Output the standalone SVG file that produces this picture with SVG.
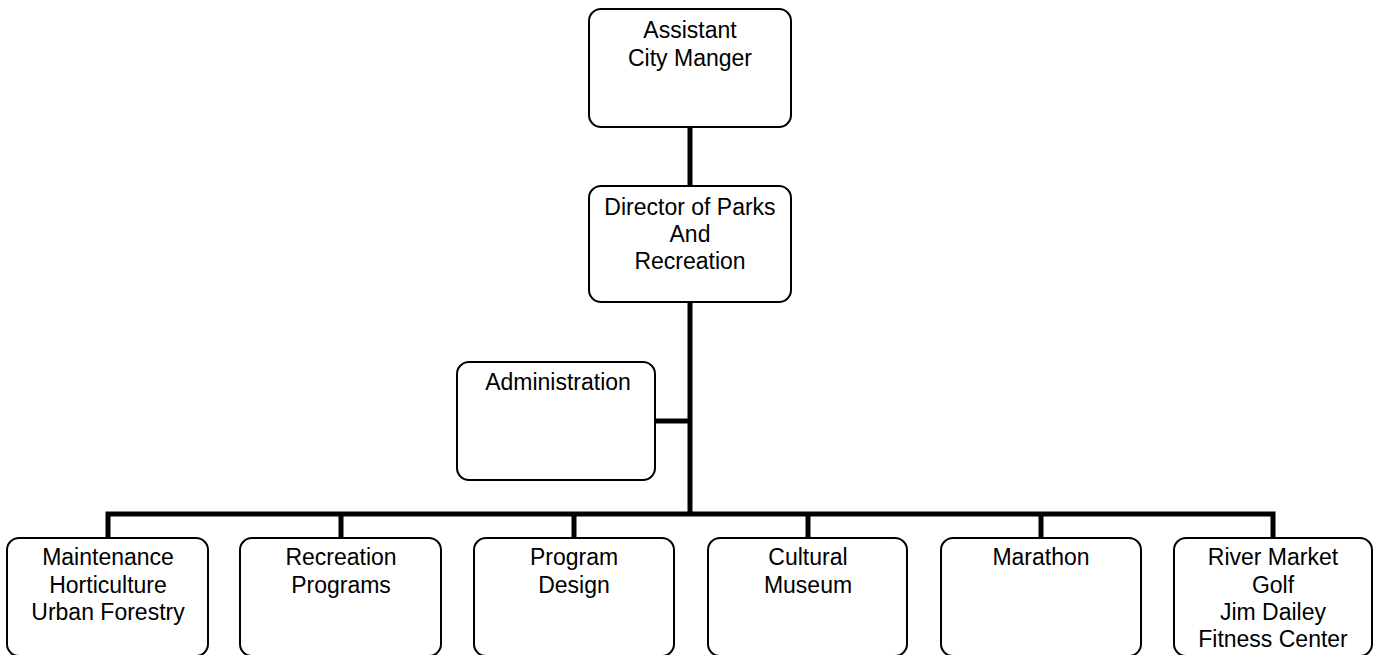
<svg xmlns="http://www.w3.org/2000/svg" width="1377" height="655" viewBox="0 0 1377 655">
<style>
.box{fill:#fff;stroke:#000;stroke-width:2}
.lbl{font-family:"Liberation Sans",Arial,sans-serif;font-size:23px;fill:#000;text-anchor:middle}
.conn{stroke:#000;stroke-width:5;fill:none}
</style>
<rect width="1377" height="655" fill="#fff"/>
<g id="connectors">
<line class="conn" x1="690" y1="127" x2="690" y2="186"/>
<line class="conn" x1="690" y1="302" x2="690" y2="516"/>
<line class="conn" x1="655" y1="421" x2="690" y2="421"/>
<polyline class="conn" points="108,538 108,514 1273,514 1273,538"/>
<line class="conn" x1="341" y1="514" x2="341" y2="538"/>
<line class="conn" x1="574" y1="514" x2="574" y2="538"/>
<line class="conn" x1="808" y1="514" x2="808" y2="538"/>
<line class="conn" x1="1041" y1="514" x2="1041" y2="538"/>
</g>
<g id="assistant">
<rect class="box" x="589" y="9" width="202" height="118" rx="12"/>
<text class="lbl" x="690" y="38">Assistant</text>
<text class="lbl" x="690" y="66">City Manger</text>
</g>
<g id="director">
<rect class="box" x="589" y="186" width="202" height="116" rx="12"/>
<text class="lbl" x="690" y="215">Director of Parks</text>
<text class="lbl" x="690" y="242">And</text>
<text class="lbl" x="690" y="269">Recreation</text>
</g>
<g id="administration">
<rect class="box" x="457" y="362" width="198" height="118" rx="12"/>
<text class="lbl" x="558" y="390">Administration</text>
</g>
<g id="maintenance">
<rect class="box" x="7" y="538" width="201" height="118" rx="12"/>
<text class="lbl" x="108" y="565">Maintenance</text>
<text class="lbl" x="108" y="593">Horticulture</text>
<text class="lbl" x="108" y="620">Urban Forestry</text>
</g>
<g id="recreation">
<rect class="box" x="240" y="538" width="201" height="118" rx="12"/>
<text class="lbl" x="341" y="565">Recreation</text>
<text class="lbl" x="341" y="593">Programs</text>
</g>
<g id="program">
<rect class="box" x="474" y="538" width="200" height="118" rx="12"/>
<text class="lbl" x="574" y="565">Program</text>
<text class="lbl" x="574" y="593">Design</text>
</g>
<g id="cultural">
<rect class="box" x="708" y="538" width="199" height="118" rx="12"/>
<text class="lbl" x="808" y="565">Cultural</text>
<text class="lbl" x="808" y="593">Museum</text>
</g>
<g id="marathon">
<rect class="box" x="941" y="538" width="200" height="118" rx="12"/>
<text class="lbl" x="1041" y="565">Marathon</text>
</g>
<g id="rivermarket">
<rect class="box" x="1174" y="538" width="198" height="118" rx="12"/>
<text class="lbl" x="1273" y="565">River Market</text>
<text class="lbl" x="1273" y="593">Golf</text>
<text class="lbl" x="1273" y="620">Jim Dailey</text>
<text class="lbl" x="1273" y="647">Fitness Center</text>
</g>
</svg>
